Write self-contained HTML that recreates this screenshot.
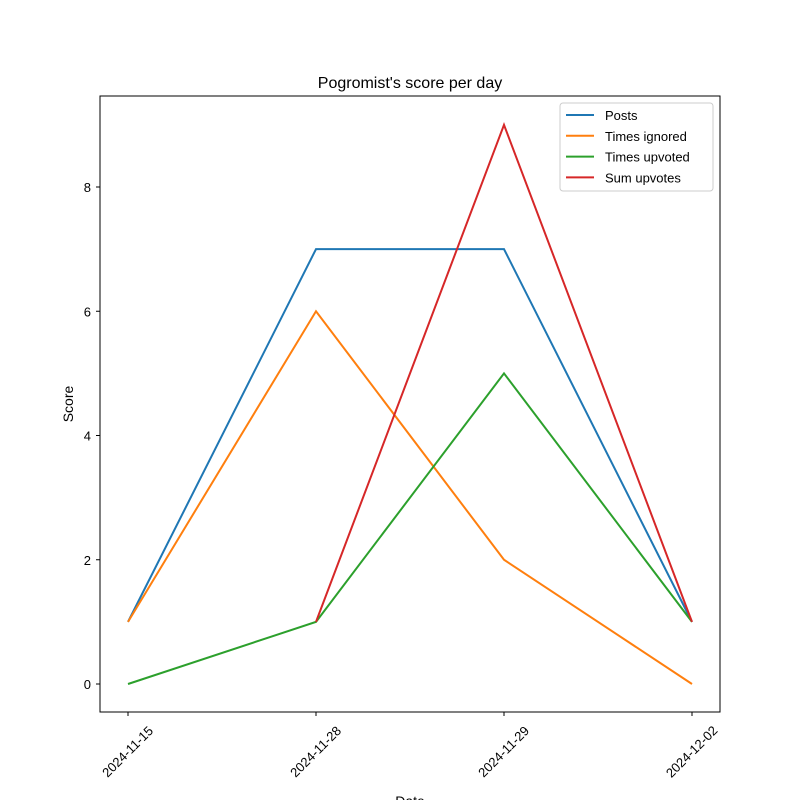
<!DOCTYPE html>
<html><head><meta charset="utf-8"><style>
body{margin:0;background:#fff}
svg{display:block;font-family:"Liberation Sans","DejaVu Sans",sans-serif}
</style></head><body>
<svg id="chart" width="800" height="800" xmlns="http://www.w3.org/2000/svg">
<rect width="800" height="800" fill="#fff"/>
<text x="410" y="88" font-size="16" text-anchor="middle">Pogromist's score per day</text>
<g id="plot"></g>
<rect x="100" y="96" width="620" height="616" fill="none" stroke="#000" stroke-width="1"/>
<text x="410" y="806" font-size="14" text-anchor="middle">Date</text>
<text transform="translate(73,404) rotate(-90)" font-size="14" text-anchor="middle">Score</text>
<g id="legend"></g>
</svg>
<script>
const categories=["2024-11-15","2024-11-28","2024-11-29","2024-12-02"];
const posts=[1,7,7,1];
const ignored=[1,6,2,0];
const upvoted=[0,1,5,1];
const sumUpvotes=[null,1,9,1];
const yTicks=[0,2,4,6,8];
const seriesNames=["Posts","Times ignored","Times upvoted","Sum upvotes"];
const colors=["#1f77b4","#ff7f0e","#2ca02c","#d62728"];
const NS="http://www.w3.org/2000/svg";
const svg=document.getElementById('chart');
const plot=document.getElementById('plot');
const leg=document.getElementById('legend');
function xs(i){return 128+i*(692-128)/(categories.length-1);}
function ys(v){return 684-v*(684-187)/8;}
function mk(t,a,p){const e=document.createElementNS(NS,t);for(const k in a)e.setAttribute(k,a[k]);(p||svg).appendChild(e);return e;}
yTicks.forEach(v=>{
  const y=ys(v);
  const l=mk('line',{x1:96,x2:100,y1:y,y2:y,stroke:'#000'});
  
  
  const t=mk('text',{x:91,y:y+5,'font-size':13,'text-anchor':'end'});
  t.textContent=v;
  
  
});
categories.forEach((c,i)=>{
  const x=xs(i);
  const l=mk('line',{x1:x,x2:x,y1:712,y2:716,stroke:'#000'});
  
  
  const t=mk('text',{'font-size':13,'text-anchor':'middle',transform:`translate(${x},${752}) rotate(-45)`,y:4});
  t.textContent=c;
  
  
});
[posts,ignored,upvoted,sumUpvotes].forEach((s,k)=>{
  const pts=[];s.forEach((v,i)=>{if(v!==null)pts.push(xs(i)+','+ys(v));});
  const p=mk('polyline',{points:pts.join(' '),fill:'none',stroke:colors[k],'stroke-width':2},plot);
  
  
});
const box=mk('rect',{x:560,y:103,width:153,height:88,rx:3,fill:'#fff',stroke:'#ccc'},leg);


seriesNames.forEach((n,k)=>{
  const y=115+k*20.8;
  const l=mk('line',{x1:566,x2:594,y1:y,y2:y,stroke:colors[k],'stroke-width':2},leg);
  
  
  const t=mk('text',{x:605,y:y+5,'font-size':13},leg);
  t.textContent=n;
  
  
});
</script>
</body></html>
